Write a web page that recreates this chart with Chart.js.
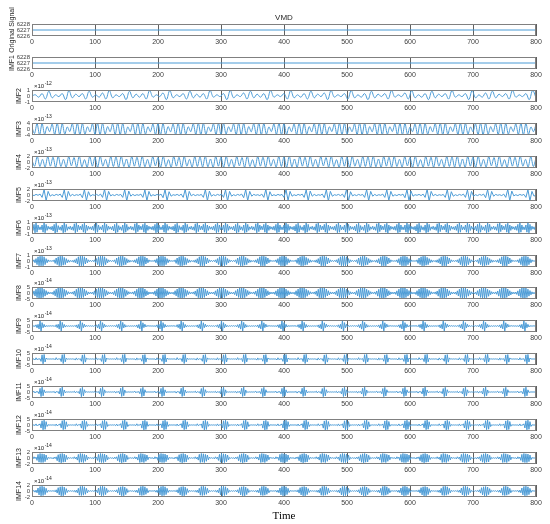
<!DOCTYPE html>
<html>
<head>
<meta charset="utf-8">
<script src="https://cdn.jsdelivr.net/npm/chart.js@4.4.1/dist/chart.umd.min.js"></script>
<style>
html,body{margin:0;padding:0;background:#fff}
#wrap{position:relative;width:550px;height:524px;overflow:hidden}
#wrap canvas{position:absolute;left:0}
</style>
</head>
<body>
<div id="wrap"></div>
<script>
// subplot names, exponent shown as x10^n, y ticks
const names=['Original Signal','IMF1','IMF2','IMF3','IMF4','IMF5','IMF6','IMF7','IMF8','IMF9','IMF10','IMF11','IMF12','IMF13','IMF14']
const exps=[0,0,-12,-13,-13,-13,-13,-13,-14,-14,-14,-14,-14,-14,-14]
const yTicks=[[6226,6227,6228],[6226,6227,6228],[-1,0,1],[-4,0,4],[-2,0,2],[-2,0,2],[-1,0,1],[-1,0,1],[-5,0,5],[-5,0,5],[-5,0,5],[-5,0,5],[-5,0,5],[-2,0,2],[-2,0,2]]
const xTicks=[0,100,200,300,400,500,600,700,800]

// values (original and IMF1 in raw units, the rest in tenths of the shown unit)
const original=[6227,6227]
const imf1=[6227,6227]
const imf2=[0,2,-2,4,-5,8,
-3,2,-1,4,-6,9, -3,3,-1,4,-5,8, -2,2,-2,5,-5,9, -3,2,-1,4,-6,8, -3,3,-2,4,-5,9,
-2,2,-1,5,-6,9, -3,2,-1,4,-5,8, -3,3,-2,4,-5,9, -2,2,-1,4,-6,9, -3,2,-1,5,-5,8,
-3,3,-2,4,-6,9, -2,2,-1,4,-5,9, -3,2,-2,4,-5,8, -3,3,-1,5,-6,9, -2,2,-1,4,-5,9,
-3,2,-2,4,-6,8, -3,3,-1,4,-5,9, -2,2,-1,5,-5,9, -3,2,-2,4,-6,8, -3,3,-1,4,-5,9,
-2,2,-1,4,-6,9, -3,2,-2,5,-5,8, -3,3,-1,4,-5,9, -2,2,-1,4,-6,9, -3]
const imf3=[10,-30,38,-40,38,-36,16,-18,
34,-38,40,-39,37,-35,14,-17, 36,-39,40,-40,38,-36,15,-19, 35,-37,39,-40,39,-35,16,-18, 34,-38,40,-39,38,-36,14,-17,
36,-38,40,-40,37,-35,15,-18, 35,-39,39,-40,38,-36,16,-19, 34,-38,40,-39,38,-35,15,-18, 36,-37,40,-40,39,-36,14,-17,
35,-38,39,-40,38,-35,15,-18, 34,-39,40,-39,37,-36,16,-19, 36,-38,40,-40,38,-35,14,-17, 35,-37,39,-40,39,-36,15,-18,
34,-38,40,-39,38,-35,16,-19, 36,-39,40,-40,37,-36,15,-17, 35,-38,39,-40,38,-35,14,-18, 34,-37,40,-39,39,-36,16,-19,
36,-38,40,-40,38,-35,15,-17, 35,-39,39,-40,37,-36,14,-18, 34,-38,40,-39,38,-35,16,-19, 36,-37,40,-40,39,-36,15,-17,
35,-38,39,-40,38,-35,14,-18, 34,-39,40,-39,37,-36,16,-19, 36,-38,40,-40,38,-35,15,-17, 35,-37,39,-40,39,-36,14,-18, 30]
const imf4=[5,-14,19,-15,9,-17,18,-14,
16,-18,19,-15,9,-17,18,-13, 15,-17,20,-16,8,-18,19,-14, 16,-18,19,-14,9,-17,18,-15, 17,-18,20,-15,10,-18,19,-14,
16,-17,19,-16,9,-17,18,-13, 15,-18,20,-15,8,-18,19,-14, 16,-18,19,-14,9,-17,18,-15, 17,-17,20,-16,10,-18,19,-14,
16,-18,19,-15,9,-17,18,-13, 15,-18,20,-15,8,-18,19,-14, 16,-17,19,-14,9,-17,18,-15, 17,-18,20,-16,10,-18,19,-14,
16,-18,19,-15,9,-17,18,-13, 15,-17,20,-15,8,-18,19,-14, 16,-18,19,-14,9,-17,18,-15, 17,-18,20,-16,10,-18,19,-14,
16,-17,19,-15,9,-17,18,-13, 15,-18,20,-15,8,-18,19,-14, 16,-18,19,-14,9,-17,18,-15, 17,-17,20,-16,10,-18,19,-14,
16,-18,19,-15,9,-17,18,-13, 15,-18,20,-15,8,-18,19,-14, 16,-17,19,-14,9,-17,18,-15, 14]
const imf5=[1,-2,2,-1,3,-8,18,-19,12,-4,
1,-2,2,-1,3,-8,17,-19,12,-4, 2,-2,1,-1,3,-9,18,-18,11,-4, 1,-1,2,-2,3,-8,19,-19,12,-3, 1,-2,2,-1,2,-8,18,-20,13,-4, 2,-2,1,-1,3,-8,17,-19,12,-4,
1,-2,2,-1,3,-9,18,-19,11,-4, 1,-1,2,-2,3,-8,19,-18,12,-3, 2,-2,1,-1,2,-8,18,-19,13,-4, 1,-2,2,-1,3,-8,17,-20,12,-4, 1,-2,2,-1,3,-9,18,-19,12,-4,
2,-1,1,-2,3,-8,19,-19,11,-3, 1,-2,2,-1,2,-8,18,-18,12,-4, 1,-2,2,-1,3,-8,17,-19,13,-4, 2,-2,1,-1,3,-9,18,-20,12,-4, 1,-1,2,-2,3,-8,19,-19,11,-3,
1,-2,2,-1,2,-8,18,-19,12,-4, 2,-2,1,-1,3,-8,17,-18,12,-4, 1,-2,2,-1,3,-9,18,-19,13,-4, 1,-1,2,-2,3,-8,19,-20,12,-3, 2,-2,1,-1,2,-8,18,-19,11,-4,
1,-2,2,-1,3,-8,17,-19,12,-4, 1,-2,2,-1,3,-9,18,-18,12,-4, 2,-1,1,-2,3,-8,19,-19,13,-3, 1,-2,2,-1,2,-8,18,-19,12,-4, 1]
const imf6=[
3,-4,6,-8,9,-7,5,-3,2,-3,5,-7,9,-8,6,-4,3,-2,2,-3, 3,-5,6,-9,8,-7,4,-3,2,-4,5,-8,9,-7,6,-4,2,-2,3,-3, 2,-4,7,-8,9,-6,5,-3,3,-3,6,-7,8,-9,5,-4,3,-2,2,-3,
3,-4,6,-8,9,-7,5,-3,2,-3,5,-7,9,-8,6,-4,3,-2,2,-3, 3,-5,6,-9,8,-7,4,-3,2,-4,5,-8,9,-7,6,-4,2,-2,3,-3, 2,-4,7,-8,9,-6,5,-3,3,-3,6,-7,8,-9,5,-4,3,-2,2,-3,
3,-4,6,-8,9,-7,5,-3,2,-3,5,-7,9,-8,6,-4,3,-2,2,-3, 3,-5,6,-9,8,-7,4,-3,2,-4,5,-8,9,-7,6,-4,2,-2,3,-3, 2,-4,7,-8,9,-6,5,-3,3,-3,6,-7,8,-9,5,-4,3,-2,2,-3,
3,-4,6,-8,9,-7,5,-3,2,-3,5,-7,9,-8,6,-4,3,-2,2,-3, 3,-5,6,-9,8,-7,4,-3,2,-4,5,-8,9,-7,6,-4,2,-2,3,-3, 2,-4,7,-8,9,-6,5,-3,3,-3,6,-7,8,-9,5,-4,3,-2,2,-3,
3,-4,6,-8,9,-7,5,-3,2,-3,5,-7,9,-8,6,-4,3,-2,2,-3, 3,-5,6,-9,8,-7,4,-3,2,-4,5,-8,9,-7,6,-4,2,-2,3,-3, 2,-4,7,-8,9,-6,5,-3,3,-3,6,-7,8,-9,5,-4,3,-2,2,-3,
3,-4,6,-8,9,-7,5,-3,2,-3,5,-7,9,-8,6,-4,3,-2,2,-3, 3,-5,6,-9,8,-7,4,-3,2,-4,5,-8,9,-7,6,-4,2,-2,3,-3, 2,-4,7,-8,9,-6,5,-3,3,-3,6,-7,8,-9,5,-4,3,-2,2,-3,
3,-4,6,-8,9,-7,5,-3,2,-3,5,-7,9,-8,6,-4,3,-2,2,-3, 3,-5,6,-9,8,-7,4,-3,2,-4,5,-8,9,-7,6,-4,2,-2,3,-3, 2,-4,7,-8,9,-6,5,-3,3,-3,6,-7,8,-9,5,-4,3,-2,2,-3,
3,-4,6,-8,9,-7,5,-3,2,-3,5,-7,9,-8,6,-4,3,-2,2,-3, 3,-5,6,-9,8,-7,4,-3,2,-4,5,-8,9,-7,6,-4,2,-2,3,-3, 2,-4,7,-8,9,-6,5,-3,3,-3,6,-7,8,-9,5,-4,3,-2,2,-3,
3,-4,6,-8,9,-7,5,-3,2,-3,5,-7,9,-8,6,-4,3,-2,2,-3, 3]
const imf7=[
1,-1,2,-3,4,-6,7,-8,8,-8,8,-8,7,-6,4,-3,2,-1,1,-1, 1,-1,2,-4,5,-6,7,-8,8,-8,8,-7,6,-6,4,-3,2,-2,1,-1, 1,-2,2,-3,4,-5,7,-8,8,-8,8,-8,7,-5,5,-3,2,-1,1,-1,
1,-1,2,-3,4,-6,7,-8,8,-8,8,-8,7,-6,4,-3,2,-1,1,-1, 1,-1,2,-4,5,-6,7,-8,8,-8,8,-7,6,-6,4,-3,2,-2,1,-1, 1,-2,2,-3,4,-5,7,-8,8,-8,8,-8,7,-5,5,-3,2,-1,1,-1,
1,-1,2,-3,4,-6,7,-8,8,-8,8,-8,7,-6,4,-3,2,-1,1,-1, 1,-1,2,-4,5,-6,7,-8,8,-8,8,-7,6,-6,4,-3,2,-2,1,-1, 1,-2,2,-3,4,-5,7,-8,8,-8,8,-8,7,-5,5,-3,2,-1,1,-1,
1,-1,2,-3,4,-6,7,-8,8,-8,8,-8,7,-6,4,-3,2,-1,1,-1, 1,-1,2,-4,5,-6,7,-8,8,-8,8,-7,6,-6,4,-3,2,-2,1,-1, 1,-2,2,-3,4,-5,7,-8,8,-8,8,-8,7,-5,5,-3,2,-1,1,-1,
1,-1,2,-3,4,-6,7,-8,8,-8,8,-8,7,-6,4,-3,2,-1,1,-1, 1,-1,2,-4,5,-6,7,-8,8,-8,8,-7,6,-6,4,-3,2,-2,1,-1, 1,-2,2,-3,4,-5,7,-8,8,-8,8,-8,7,-5,5,-3,2,-1,1,-1,
1,-1,2,-3,4,-6,7,-8,8,-8,8,-8,7,-6,4,-3,2,-1,1,-1, 1,-1,2,-4,5,-6,7,-8,8,-8,8,-7,6,-6,4,-3,2,-2,1,-1, 1,-2,2,-3,4,-5,7,-8,8,-8,8,-8,7,-5,5,-3,2,-1,1,-1,
1,-1,2,-3,4,-6,7,-8,8,-8,8,-8,7,-6,4,-3,2,-1,1,-1, 1,-1,2,-4,5,-6,7,-8,8,-8,8,-7,6,-6,4,-3,2,-2,1,-1, 1,-2,2,-3,4,-5,7,-8,8,-8,8,-8,7,-5,5,-3,2,-1,1,-1,
1,-1,2,-3,4,-6,7,-8,8,-8,8,-8,7,-6,4,-3,2,-1,1,-1, 1,-1,2,-4,5,-6,7,-8,8,-8,8,-7,6,-6,4,-3,2,-2,1,-1, 1,-2,2,-3,4,-5,7,-8,8,-8,8,-8,7,-5,5,-3,2,-1,1,-1,
1,-1,2,-3,4,-6,7,-8,8,-8,8,-8,7,-6,4,-3,2,-1,1,-1, 1]
const imf8=[
8,-12,18,-25,32,-38,42,-45,45,-44,42,-38,32,-26,20,-15,10,-8,6,-7, 7,-13,19,-24,33,-37,43,-44,46,-43,41,-39,31,-27,21,-14,11,-7,6,-6, 9,-11,17,-26,31,-39,41,-46,44,-45,43,-37,33,-25,19,-16,9,-8,7,-7,
8,-12,18,-25,32,-38,42,-45,45,-44,42,-38,32,-26,20,-15,10,-8,6,-7, 7,-13,19,-24,33,-37,43,-44,46,-43,41,-39,31,-27,21,-14,11,-7,6,-6, 9,-11,17,-26,31,-39,41,-46,44,-45,43,-37,33,-25,19,-16,9,-8,7,-7,
8,-12,18,-25,32,-38,42,-45,45,-44,42,-38,32,-26,20,-15,10,-8,6,-7, 7,-13,19,-24,33,-37,43,-44,46,-43,41,-39,31,-27,21,-14,11,-7,6,-6, 9,-11,17,-26,31,-39,41,-46,44,-45,43,-37,33,-25,19,-16,9,-8,7,-7,
8,-12,18,-25,32,-38,42,-45,45,-44,42,-38,32,-26,20,-15,10,-8,6,-7, 7,-13,19,-24,33,-37,43,-44,46,-43,41,-39,31,-27,21,-14,11,-7,6,-6, 9,-11,17,-26,31,-39,41,-46,44,-45,43,-37,33,-25,19,-16,9,-8,7,-7,
8,-12,18,-25,32,-38,42,-45,45,-44,42,-38,32,-26,20,-15,10,-8,6,-7, 7,-13,19,-24,33,-37,43,-44,46,-43,41,-39,31,-27,21,-14,11,-7,6,-6, 9,-11,17,-26,31,-39,41,-46,44,-45,43,-37,33,-25,19,-16,9,-8,7,-7,
8,-12,18,-25,32,-38,42,-45,45,-44,42,-38,32,-26,20,-15,10,-8,6,-7, 7,-13,19,-24,33,-37,43,-44,46,-43,41,-39,31,-27,21,-14,11,-7,6,-6, 9,-11,17,-26,31,-39,41,-46,44,-45,43,-37,33,-25,19,-16,9,-8,7,-7,
8,-12,18,-25,32,-38,42,-45,45,-44,42,-38,32,-26,20,-15,10,-8,6,-7, 7,-13,19,-24,33,-37,43,-44,46,-43,41,-39,31,-27,21,-14,11,-7,6,-6, 9,-11,17,-26,31,-39,41,-46,44,-45,43,-37,33,-25,19,-16,9,-8,7,-7,
8,-12,18,-25,32,-38,42,-45,45,-44,42,-38,32,-26,20,-15,10,-8,6,-7, 7,-13,19,-24,33,-37,43,-44,46,-43,41,-39,31,-27,21,-14,11,-7,6,-6, 9,-11,17,-26,31,-39,41,-46,44,-45,43,-37,33,-25,19,-16,9,-8,7,-7,
8,-12,18,-25,32,-38,42,-45,45,-44,42,-38,32,-26,20,-15,10,-8,6,-7, 8]
const imf9=[
2,-3,3,-5,10,-15,14,-25,45,-48,28,-15,14,-8,4,-3,2,-2,3,-2, 3,-2,3,-6,11,-14,15,-26,44,-46,30,-16,13,-9,4,-3,2,-3,2,-2, 2,-3,4,-5,9,-16,13,-24,46,-47,27,-14,15,-8,5,-2,3,-2,2,-2,
2,-3,3,-5,10,-15,14,-25,45,-48,28,-15,14,-8,4,-3,2,-2,3,-2, 3,-2,3,-6,11,-14,15,-26,44,-46,30,-16,13,-9,4,-3,2,-3,2,-2, 2,-3,4,-5,9,-16,13,-24,46,-47,27,-14,15,-8,5,-2,3,-2,2,-2,
2,-3,3,-5,10,-15,14,-25,45,-48,28,-15,14,-8,4,-3,2,-2,3,-2, 3,-2,3,-6,11,-14,15,-26,44,-46,30,-16,13,-9,4,-3,2,-3,2,-2, 2,-3,4,-5,9,-16,13,-24,46,-47,27,-14,15,-8,5,-2,3,-2,2,-2,
2,-3,3,-5,10,-15,14,-25,45,-48,28,-15,14,-8,4,-3,2,-2,3,-2, 3,-2,3,-6,11,-14,15,-26,44,-46,30,-16,13,-9,4,-3,2,-3,2,-2, 2,-3,4,-5,9,-16,13,-24,46,-47,27,-14,15,-8,5,-2,3,-2,2,-2,
2,-3,3,-5,10,-15,14,-25,45,-48,28,-15,14,-8,4,-3,2,-2,3,-2, 3,-2,3,-6,11,-14,15,-26,44,-46,30,-16,13,-9,4,-3,2,-3,2,-2, 2,-3,4,-5,9,-16,13,-24,46,-47,27,-14,15,-8,5,-2,3,-2,2,-2,
2,-3,3,-5,10,-15,14,-25,45,-48,28,-15,14,-8,4,-3,2,-2,3,-2, 3,-2,3,-6,11,-14,15,-26,44,-46,30,-16,13,-9,4,-3,2,-3,2,-2, 2,-3,4,-5,9,-16,13,-24,46,-47,27,-14,15,-8,5,-2,3,-2,2,-2,
2,-3,3,-5,10,-15,14,-25,45,-48,28,-15,14,-8,4,-3,2,-2,3,-2, 3,-2,3,-6,11,-14,15,-26,44,-46,30,-16,13,-9,4,-3,2,-3,2,-2, 2,-3,4,-5,9,-16,13,-24,46,-47,27,-14,15,-8,5,-2,3,-2,2,-2,
2,-3,3,-5,10,-15,14,-25,45,-48,28,-15,14,-8,4,-3,2,-2,3,-2, 3,-2,3,-6,11,-14,15,-26,44,-46,30,-16,13,-9,4,-3,2,-3,2,-2, 2,-3,4,-5,9,-16,13,-24,46,-47,27,-14,15,-8,5,-2,3,-2,2,-2,
2,-3,3,-5,10,-15,14,-25,45,-48,28,-15,14,-8,4,-3,2,-2,3,-2, 2]
const imf10=[
1,-1,1,-8,10,-6,1,-1,2,-20,35,-40,38,-25,8,-1,1,-1,1,-1, 1,-1,2,-7,11,-5,1,-1,3,-22,36,-38,39,-24,7,-2,1,-1,1,-1, 1,-1,1,-9,9,-6,2,-1,2,-19,34,-41,37,-26,9,-1,1,-1,1,-1,
1,-1,1,-8,10,-6,1,-1,2,-20,35,-40,38,-25,8,-1,1,-1,1,-1, 1,-1,2,-7,11,-5,1,-1,3,-22,36,-38,39,-24,7,-2,1,-1,1,-1, 1,-1,1,-9,9,-6,2,-1,2,-19,34,-41,37,-26,9,-1,1,-1,1,-1,
1,-1,1,-8,10,-6,1,-1,2,-20,35,-40,38,-25,8,-1,1,-1,1,-1, 1,-1,2,-7,11,-5,1,-1,3,-22,36,-38,39,-24,7,-2,1,-1,1,-1, 1,-1,1,-9,9,-6,2,-1,2,-19,34,-41,37,-26,9,-1,1,-1,1,-1,
1,-1,1,-8,10,-6,1,-1,2,-20,35,-40,38,-25,8,-1,1,-1,1,-1, 1,-1,2,-7,11,-5,1,-1,3,-22,36,-38,39,-24,7,-2,1,-1,1,-1, 1,-1,1,-9,9,-6,2,-1,2,-19,34,-41,37,-26,9,-1,1,-1,1,-1,
1,-1,1,-8,10,-6,1,-1,2,-20,35,-40,38,-25,8,-1,1,-1,1,-1, 1,-1,2,-7,11,-5,1,-1,3,-22,36,-38,39,-24,7,-2,1,-1,1,-1, 1,-1,1,-9,9,-6,2,-1,2,-19,34,-41,37,-26,9,-1,1,-1,1,-1,
1,-1,1,-8,10,-6,1,-1,2,-20,35,-40,38,-25,8,-1,1,-1,1,-1, 1,-1,2,-7,11,-5,1,-1,3,-22,36,-38,39,-24,7,-2,1,-1,1,-1, 1,-1,1,-9,9,-6,2,-1,2,-19,34,-41,37,-26,9,-1,1,-1,1,-1,
1,-1,1,-8,10,-6,1,-1,2,-20,35,-40,38,-25,8,-1,1,-1,1,-1, 1,-1,2,-7,11,-5,1,-1,3,-22,36,-38,39,-24,7,-2,1,-1,1,-1, 1,-1,1,-9,9,-6,2,-1,2,-19,34,-41,37,-26,9,-1,1,-1,1,-1,
1,-1,1,-8,10,-6,1,-1,2,-20,35,-40,38,-25,8,-1,1,-1,1,-1, 1,-1,2,-7,11,-5,1,-1,3,-22,36,-38,39,-24,7,-2,1,-1,1,-1, 1,-1,1,-9,9,-6,2,-1,2,-19,34,-41,37,-26,9,-1,1,-1,1,-1,
1,-1,1,-8,10,-6,1,-1,2,-20,35,-40,38,-25,8,-1,1,-1,1,-1, 1]
const imf11=[
1,-1,6,-8,3,-1,3,-15,30,-38,40,-32,18,-5,1,-1,1,-1,1,-1, 1,-1,5,-9,4,-1,4,-16,31,-37,41,-31,17,-6,1,-1,1,-1,1,-1, 1,-1,7,-7,3,-2,3,-14,29,-39,39,-33,19,-4,2,-1,1,-1,1,-1,
1,-1,6,-8,3,-1,3,-15,30,-38,40,-32,18,-5,1,-1,1,-1,1,-1, 1,-1,5,-9,4,-1,4,-16,31,-37,41,-31,17,-6,1,-1,1,-1,1,-1, 1,-1,7,-7,3,-2,3,-14,29,-39,39,-33,19,-4,2,-1,1,-1,1,-1,
1,-1,6,-8,3,-1,3,-15,30,-38,40,-32,18,-5,1,-1,1,-1,1,-1, 1,-1,5,-9,4,-1,4,-16,31,-37,41,-31,17,-6,1,-1,1,-1,1,-1, 1,-1,7,-7,3,-2,3,-14,29,-39,39,-33,19,-4,2,-1,1,-1,1,-1,
1,-1,6,-8,3,-1,3,-15,30,-38,40,-32,18,-5,1,-1,1,-1,1,-1, 1,-1,5,-9,4,-1,4,-16,31,-37,41,-31,17,-6,1,-1,1,-1,1,-1, 1,-1,7,-7,3,-2,3,-14,29,-39,39,-33,19,-4,2,-1,1,-1,1,-1,
1,-1,6,-8,3,-1,3,-15,30,-38,40,-32,18,-5,1,-1,1,-1,1,-1, 1,-1,5,-9,4,-1,4,-16,31,-37,41,-31,17,-6,1,-1,1,-1,1,-1, 1,-1,7,-7,3,-2,3,-14,29,-39,39,-33,19,-4,2,-1,1,-1,1,-1,
1,-1,6,-8,3,-1,3,-15,30,-38,40,-32,18,-5,1,-1,1,-1,1,-1, 1,-1,5,-9,4,-1,4,-16,31,-37,41,-31,17,-6,1,-1,1,-1,1,-1, 1,-1,7,-7,3,-2,3,-14,29,-39,39,-33,19,-4,2,-1,1,-1,1,-1,
1,-1,6,-8,3,-1,3,-15,30,-38,40,-32,18,-5,1,-1,1,-1,1,-1, 1,-1,5,-9,4,-1,4,-16,31,-37,41,-31,17,-6,1,-1,1,-1,1,-1, 1,-1,7,-7,3,-2,3,-14,29,-39,39,-33,19,-4,2,-1,1,-1,1,-1,
1,-1,6,-8,3,-1,3,-15,30,-38,40,-32,18,-5,1,-1,1,-1,1,-1, 1,-1,5,-9,4,-1,4,-16,31,-37,41,-31,17,-6,1,-1,1,-1,1,-1, 1,-1,7,-7,3,-2,3,-14,29,-39,39,-33,19,-4,2,-1,1,-1,1,-1,
1,-1,6,-8,3,-1,3,-15,30,-38,40,-32,18,-5,1,-1,1,-1,1,-1, 1]
const imf12=[
1,-1,1,-5,9,-7,2,-1,10,-25,35,-40,40,-36,28,-12,2,-1,1,-1, 1,-1,2,-6,8,-7,2,-1,11,-24,36,-39,41,-35,27,-13,2,-1,1,-1, 1,-1,1,-5,10,-6,2,-1,9,-26,34,-41,39,-37,29,-11,3,-1,1,-1,
1,-1,1,-5,9,-7,2,-1,10,-25,35,-40,40,-36,28,-12,2,-1,1,-1, 1,-1,2,-6,8,-7,2,-1,11,-24,36,-39,41,-35,27,-13,2,-1,1,-1, 1,-1,1,-5,10,-6,2,-1,9,-26,34,-41,39,-37,29,-11,3,-1,1,-1,
1,-1,1,-5,9,-7,2,-1,10,-25,35,-40,40,-36,28,-12,2,-1,1,-1, 1,-1,2,-6,8,-7,2,-1,11,-24,36,-39,41,-35,27,-13,2,-1,1,-1, 1,-1,1,-5,10,-6,2,-1,9,-26,34,-41,39,-37,29,-11,3,-1,1,-1,
1,-1,1,-5,9,-7,2,-1,10,-25,35,-40,40,-36,28,-12,2,-1,1,-1, 1,-1,2,-6,8,-7,2,-1,11,-24,36,-39,41,-35,27,-13,2,-1,1,-1, 1,-1,1,-5,10,-6,2,-1,9,-26,34,-41,39,-37,29,-11,3,-1,1,-1,
1,-1,1,-5,9,-7,2,-1,10,-25,35,-40,40,-36,28,-12,2,-1,1,-1, 1,-1,2,-6,8,-7,2,-1,11,-24,36,-39,41,-35,27,-13,2,-1,1,-1, 1,-1,1,-5,10,-6,2,-1,9,-26,34,-41,39,-37,29,-11,3,-1,1,-1,
1,-1,1,-5,9,-7,2,-1,10,-25,35,-40,40,-36,28,-12,2,-1,1,-1, 1,-1,2,-6,8,-7,2,-1,11,-24,36,-39,41,-35,27,-13,2,-1,1,-1, 1,-1,1,-5,10,-6,2,-1,9,-26,34,-41,39,-37,29,-11,3,-1,1,-1,
1,-1,1,-5,9,-7,2,-1,10,-25,35,-40,40,-36,28,-12,2,-1,1,-1, 1,-1,2,-6,8,-7,2,-1,11,-24,36,-39,41,-35,27,-13,2,-1,1,-1, 1,-1,1,-5,10,-6,2,-1,9,-26,34,-41,39,-37,29,-11,3,-1,1,-1,
1,-1,1,-5,9,-7,2,-1,10,-25,35,-40,40,-36,28,-12,2,-1,1,-1, 1,-1,2,-6,8,-7,2,-1,11,-24,36,-39,41,-35,27,-13,2,-1,1,-1, 1,-1,1,-5,10,-6,2,-1,9,-26,34,-41,39,-37,29,-11,3,-1,1,-1,
1,-1,1,-5,9,-7,2,-1,10,-25,35,-40,40,-36,28,-12,2,-1,1,-1, 1]
const imf13=[
1,-3,4,-2,3,-8,12,-14,15,-15,14,-15,13,-12,10,-6,2,-1,1,-1, 1,-3,3,-2,4,-9,11,-14,14,-16,15,-14,13,-13,9,-5,2,-1,1,-1, 1,-2,4,-3,3,-7,12,-15,15,-14,14,-15,12,-11,10,-6,3,-1,1,-1,
1,-3,4,-2,3,-8,12,-14,15,-15,14,-15,13,-12,10,-6,2,-1,1,-1, 1,-3,3,-2,4,-9,11,-14,14,-16,15,-14,13,-13,9,-5,2,-1,1,-1, 1,-2,4,-3,3,-7,12,-15,15,-14,14,-15,12,-11,10,-6,3,-1,1,-1,
1,-3,4,-2,3,-8,12,-14,15,-15,14,-15,13,-12,10,-6,2,-1,1,-1, 1,-3,3,-2,4,-9,11,-14,14,-16,15,-14,13,-13,9,-5,2,-1,1,-1, 1,-2,4,-3,3,-7,12,-15,15,-14,14,-15,12,-11,10,-6,3,-1,1,-1,
1,-3,4,-2,3,-8,12,-14,15,-15,14,-15,13,-12,10,-6,2,-1,1,-1, 1,-3,3,-2,4,-9,11,-14,14,-16,15,-14,13,-13,9,-5,2,-1,1,-1, 1,-2,4,-3,3,-7,12,-15,15,-14,14,-15,12,-11,10,-6,3,-1,1,-1,
1,-3,4,-2,3,-8,12,-14,15,-15,14,-15,13,-12,10,-6,2,-1,1,-1, 1,-3,3,-2,4,-9,11,-14,14,-16,15,-14,13,-13,9,-5,2,-1,1,-1, 1,-2,4,-3,3,-7,12,-15,15,-14,14,-15,12,-11,10,-6,3,-1,1,-1,
1,-3,4,-2,3,-8,12,-14,15,-15,14,-15,13,-12,10,-6,2,-1,1,-1, 1,-3,3,-2,4,-9,11,-14,14,-16,15,-14,13,-13,9,-5,2,-1,1,-1, 1,-2,4,-3,3,-7,12,-15,15,-14,14,-15,12,-11,10,-6,3,-1,1,-1,
1,-3,4,-2,3,-8,12,-14,15,-15,14,-15,13,-12,10,-6,2,-1,1,-1, 1,-3,3,-2,4,-9,11,-14,14,-16,15,-14,13,-13,9,-5,2,-1,1,-1, 1,-2,4,-3,3,-7,12,-15,15,-14,14,-15,12,-11,10,-6,3,-1,1,-1,
1,-3,4,-2,3,-8,12,-14,15,-15,14,-15,13,-12,10,-6,2,-1,1,-1, 1,-3,3,-2,4,-9,11,-14,14,-16,15,-14,13,-13,9,-5,2,-1,1,-1, 1,-2,4,-3,3,-7,12,-15,15,-14,14,-15,12,-11,10,-6,3,-1,1,-1,
1,-3,4,-2,3,-8,12,-14,15,-15,14,-15,13,-12,10,-6,2,-1,1,-1, 1]
const imf14=[
1,-1,2,-4,3,-6,10,-13,15,-16,16,-15,14,-12,9,-5,2,-1,1,-1, 1,-1,2,-3,4,-7,11,-13,14,-16,15,-16,13,-12,8,-5,2,-1,1,-1, 1,-2,2,-4,3,-6,9,-14,15,-15,16,-14,14,-11,9,-6,2,-1,1,-1,
1,-1,2,-4,3,-6,10,-13,15,-16,16,-15,14,-12,9,-5,2,-1,1,-1, 1,-1,2,-3,4,-7,11,-13,14,-16,15,-16,13,-12,8,-5,2,-1,1,-1, 1,-2,2,-4,3,-6,9,-14,15,-15,16,-14,14,-11,9,-6,2,-1,1,-1,
1,-1,2,-4,3,-6,10,-13,15,-16,16,-15,14,-12,9,-5,2,-1,1,-1, 1,-1,2,-3,4,-7,11,-13,14,-16,15,-16,13,-12,8,-5,2,-1,1,-1, 1,-2,2,-4,3,-6,9,-14,15,-15,16,-14,14,-11,9,-6,2,-1,1,-1,
1,-1,2,-4,3,-6,10,-13,15,-16,16,-15,14,-12,9,-5,2,-1,1,-1, 1,-1,2,-3,4,-7,11,-13,14,-16,15,-16,13,-12,8,-5,2,-1,1,-1, 1,-2,2,-4,3,-6,9,-14,15,-15,16,-14,14,-11,9,-6,2,-1,1,-1,
1,-1,2,-4,3,-6,10,-13,15,-16,16,-15,14,-12,9,-5,2,-1,1,-1, 1,-1,2,-3,4,-7,11,-13,14,-16,15,-16,13,-12,8,-5,2,-1,1,-1, 1,-2,2,-4,3,-6,9,-14,15,-15,16,-14,14,-11,9,-6,2,-1,1,-1,
1,-1,2,-4,3,-6,10,-13,15,-16,16,-15,14,-12,9,-5,2,-1,1,-1, 1,-1,2,-3,4,-7,11,-13,14,-16,15,-16,13,-12,8,-5,2,-1,1,-1, 1,-2,2,-4,3,-6,9,-14,15,-15,16,-14,14,-11,9,-6,2,-1,1,-1,
1,-1,2,-4,3,-6,10,-13,15,-16,16,-15,14,-12,9,-5,2,-1,1,-1, 1,-1,2,-3,4,-7,11,-13,14,-16,15,-16,13,-12,8,-5,2,-1,1,-1, 1,-2,2,-4,3,-6,9,-14,15,-15,16,-14,14,-11,9,-6,2,-1,1,-1,
1,-1,2,-4,3,-6,10,-13,15,-16,16,-15,14,-12,9,-5,2,-1,1,-1, 1,-1,2,-3,4,-7,11,-13,14,-16,15,-16,13,-12,8,-5,2,-1,1,-1, 1,-2,2,-4,3,-6,9,-14,15,-15,16,-14,14,-11,9,-6,2,-1,1,-1,
1,-1,2,-4,3,-6,10,-13,15,-16,16,-15,14,-12,9,-5,2,-1,1,-1, 1]

const series=[original,imf1,imf2,imf3,imf4,imf5,imf6,imf7,imf8,imf9,imf10,imf11,imf12,imf13,imf14]
const divs=[1,1,10,10,10,10,10,10,10,10,10,10,10,10,10]
const tension=[0,0,0.4,0.3,0.3,0,0,0,0,0,0,0,0,0,0]

Chart.defaults.font.family="'Liberation Sans', Arial, sans-serif"
Chart.defaults.color='#262626'

const lineColor='#4b9bd6'
const wrap=document.getElementById('wrap')

const frame={
    id:'frame',
    afterDraw(c){
        const a=c.chartArea, ctx=c.ctx
        ctx.save()
        ctx.strokeStyle='#808080'
        ctx.lineWidth=1
        ctx.strokeRect(a.left+0.5,a.top+0.5,a.width-1,a.height-1)
        ctx.restore()
    }
}

const texts={
    id:'texts',
    afterDraw(c,args,o){
        const ctx=c.ctx, a=c.chartArea
        ctx.save()
        ctx.fillStyle='#262626'
        if(o.exp){
            ctx.font="6px 'Liberation Sans'"
            ctx.fillText('×10',a.left+2,a.top-2)
            const w=ctx.measureText('×10').width
            ctx.font="5px 'Liberation Sans'"
            ctx.fillText(String(o.exp),a.left+2.5+w,a.top-5)
        }
        ctx.textAlign='center'
        if(o.title){
            ctx.font="8px 'Liberation Sans'"
            ctx.fillText(o.title,(a.left+a.right)/2,a.top-4)
        }
        if(o.xlabel){
            ctx.fillStyle='#000'
            ctx.font="11px 'Liberation Serif'"
            ctx.fillText(o.xlabel,(a.left+a.right)/2,a.bottom+22)
        }
        ctx.restore()
    }
}

names.forEach((name,i)=>{
    const boxTop=Math.round(24+i*32.93)
    const cv=document.createElement('canvas')
    cv.width=550
    cv.height=56
    cv.style.top=(boxTop-20)+'px'
    wrap.appendChild(cv)

    const vals=series[i]
    const n=vals.length
    const pts=vals.map((v,j)=>({x:j*800/(n-1),y:v/divs[i]}))
    const yt=yTicks[i]

    new Chart(cv,{
        type:'line',
        data:{datasets:[{
            data:pts,
            borderColor:lineColor,
            borderWidth:1,
            pointRadius:0,
            tension:tension[i]
        }]},
        plugins:[frame,texts],
        options:{
            responsive:false,
            animation:false,
            layout:{padding:{top:20,right:14,bottom:12,left:0}},
            plugins:{
                legend:{display:false},
                tooltip:{enabled:false},
                texts:{
                    exp:exps[i],
                    title:i===0?'VMD':'',
                    xlabel:i===names.length-1?'Time':''
                }
            },
            scales:{
                x:{
                    type:'linear',
                    min:0,
                    max:800,
                    afterFit(s){s.height=12},
                    afterBuildTicks(s){s.ticks=xTicks.map(v=>({value:v}))},
                    ticks:{font:{size:7},padding:2,maxRotation:0,autoSkip:false,color:'#404040'},
                    grid:{color:'#606060',drawTicks:false},
                    border:{display:false}
                },
                y:{
                    min:yt[0],
                    max:yt[yt.length-1],
                    afterFit(s){s.width=32},
                    afterBuildTicks(s){s.ticks=yt.map(v=>({value:v}))},
                    ticks:{font:{size:6},padding:2,autoSkip:false,color:'#404040',callback:v=>String(v)},
                    grid:{display:false,drawTicks:false},
                    border:{display:false},
                    title:{display:true,text:name,font:{size:7},color:'#262626',padding:{top:i<2?8:15,bottom:0}}
                }
            }
        }
    })
})
</script>
</body>
</html>
